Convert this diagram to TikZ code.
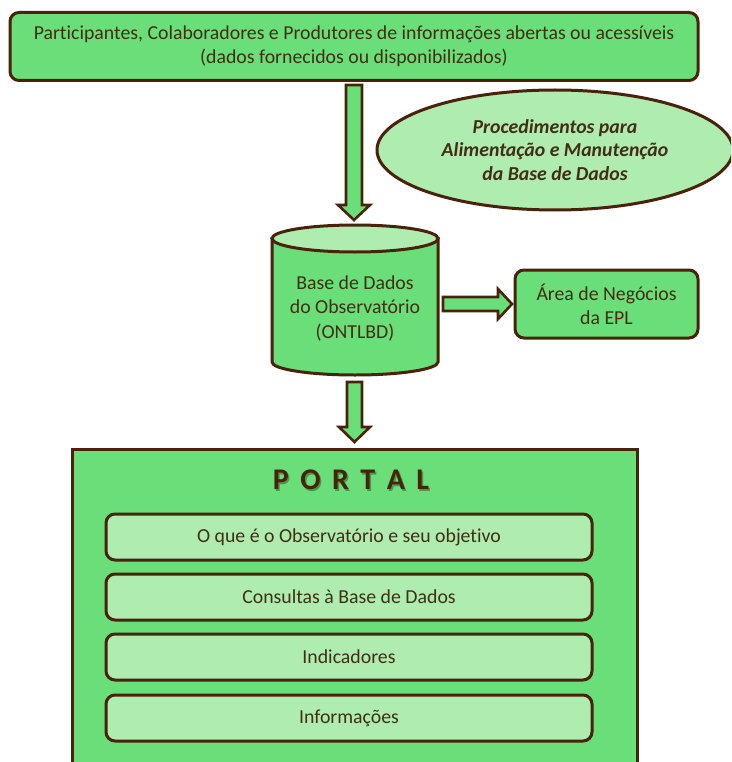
\documentclass[tikz,border=0pt]{standalone}
\usepackage{fontspec}
\setmainfont{Carlito}[Ligatures=NoCommon]
\usetikzlibrary{shapes.geometric}
\definecolor{gmid}{RGB}{106,222,120}
\definecolor{glight}{RGB}{174,236,176}
\definecolor{brd}{RGB}{72,34,10}
\definecolor{txt}{RGB}{66,46,20}
\definecolor{shadowc}{RGB}{60,120,60}
\tikzset{
  box/.style={draw=brd, line width=3pt, rounded corners=9pt, fill=gmid,
    text=txt, align=center, inner sep=0pt,
    font=\fontsize{19.8}{24}\selectfont},
  itembox/.style={box, fill=glight, minimum width=486pt, minimum height=46pt},
  blockarrow/.style={draw=brd, fill=gmid, line width=2.6pt, line join=miter},
  plain/.style={text=txt, align=center, inner sep=0pt,
    font=\fontsize{19.8}{24.5}\selectfont}
}
\begin{document}
\begin{tikzpicture}[x=1pt,y=-1pt]
\useasboundingbox (0,0) rectangle (731,762);
\clip (0,0) rectangle (731,762);

% source of the data
\node[box, minimum width=688pt, minimum height=68pt] (src) at (354,46.5)
  {Participantes, Colaboradores e Produtores de informações abertas ou acessíveis\\
   (dados fornecidos ou disponibilizados)};

% procedures ellipse
\node[draw=brd, line width=3pt, fill=glight, ellipse, minimum width=356pt,
  minimum height=120pt, inner sep=0pt, text=txt, align=center,
  font=\fontsize{19.8}{23.5}\selectfont\bfseries\itshape] (proc) at (555,150)
  {Procedimentos para\\Alimentação e Manutenção\\da Base de Dados};

% database cylinder
\draw[draw=brd, line width=3pt, fill=gmid]
  (272,238.5) -- (272,362) arc[start angle=180, end angle=0, x radius=83, y radius=13]
  -- (438,238.5) -- cycle;
\draw[draw=brd, line width=3pt, fill=glight] (355,238.5) ellipse [x radius=83, y radius=13.5];
\node[plain] (db) at (355,308) {Base de Dados\\do Observatório\\(ONTLBD)};

% business area
\node[box, minimum width=183pt, minimum height=68pt] (area) at (606.5,304)
  {Área de Negócios\\da EPL};

% block arrows
\draw[blockarrow] (346,85) -- (362,85) -- (362,205) -- (370,205) -- (354,220)
  -- (338,205) -- (346,205) -- cycle;
\draw[blockarrow] (347,382) -- (362,382) -- (362,427) -- (370,427) -- (354.5,442)
  -- (339,427) -- (347,427) -- cycle;
\draw[blockarrow] (443,297) -- (498,297) -- (498,289) -- (512,304) -- (498,319)
  -- (498,311) -- (443,311) -- cycle;

% portal
\draw[draw=brd, line width=3pt, fill=gmid] (72,449) rectangle (637,780);
\node[text=shadowc!70!gmid, font=\fontsize{30}{30}\selectfont\bfseries] at (352.5,481.5)
  {P\hskip 11.5pt O\hskip 11.5pt R\hskip 11.5pt T\hskip 11.5pt A\hskip 11.5pt L};
\node[text=brd, font=\fontsize{30}{30}\selectfont\bfseries] (portal) at (351,480)
  {P\hskip 11.5pt O\hskip 11.5pt R\hskip 11.5pt T\hskip 11.5pt A\hskip 11.5pt L};

\node[itembox] (i1) at (349,537) {O que é o Observatório e seu objetivo};
\node[itembox] (i2) at (349,597) {Consultas à Base de Dados};
\node[itembox] (i3) at (349,657) {Indicadores};
\node[itembox] (i4) at (349,718) {Informações};
\end{tikzpicture}
\end{document}
